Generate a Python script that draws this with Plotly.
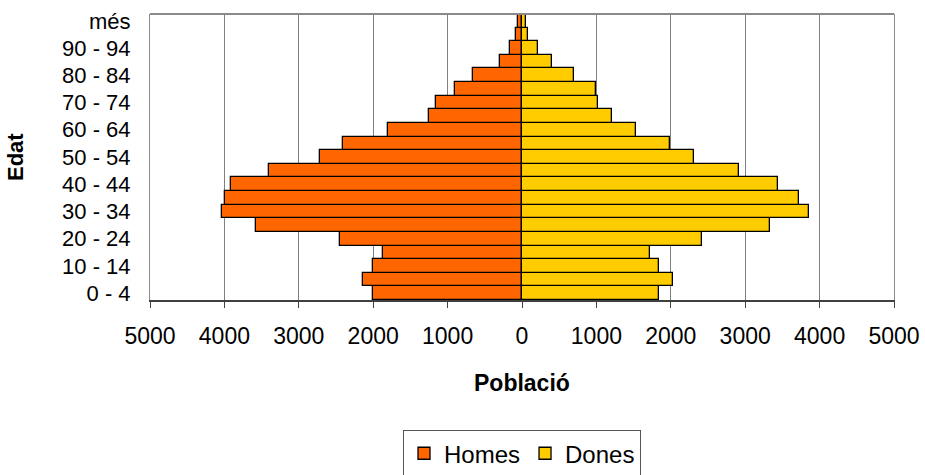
import plotly.graph_objects as go

ages = ["0 - 4", "5 - 9", "10 - 14", "15 - 19", "20 - 24", "25 - 29", "30 - 34",
        "35 - 39", "40 - 44", "45 - 49", "50 - 54", "55 - 59", "60 - 64", "65 - 69",
        "70 - 74", "75 - 79", "80 - 84", "85 - 89", "90 - 94", "95 - 99", "més"]
homes = [2008, 2142, 2008, 1874, 2442, 3571, 4028, 3997, 3917, 3406, 2711,
         2411, 1797, 1255, 1152, 906, 664, 292, 157, 80, 54]
dones = [1836, 2024, 1836, 1724, 2419, 3337, 3852, 3718, 3441, 2911, 2316,
         1993, 1532, 1214, 1026, 999, 703, 403, 215, 80, 58]
x_ticks = [-5000, -4000, -3000, -2000, -1000, 0, 1000, 2000, 3000, 4000, 5000]

FONT = "Liberation Sans, Arial, sans-serif"

fig = go.Figure()
fig.add_trace(go.Bar(
    y=ages, x=[-v for v in homes], name="Homes", orientation="h",
    marker=dict(color="#FF6600", line=dict(color="black", width=1.3)),
))
fig.add_trace(go.Bar(
    y=ages, x=dones, name="Dones", orientation="h",
    marker=dict(color="#FFCC00", line=dict(color="black", width=1.3)),
))

# grey top border of the plot area
fig.add_shape(type="line", xref="paper", yref="paper", x0=0, x1=1, y0=1, y1=1,
              line=dict(color="#8a8a8a", width=2))

# axis titles as annotations (exact placement)
fig.add_annotation(text="<b>Població</b>", xref="paper", yref="paper",
                   x=0.5, y=0, yshift=-83, showarrow=False,
                   xanchor="center", yanchor="middle", font=dict(size=23))
fig.add_annotation(text="<b>Edat</b>", xref="paper", yref="paper",
                   x=0, xshift=-135, y=0.5, showarrow=False, textangle=-90,
                   xanchor="center", yanchor="middle", font=dict(size=22))

fig.update_layout(
    width=925, height=475,
    barmode="relative", bargap=0,
    paper_bgcolor="white", plot_bgcolor="white",
    font=dict(family=FONT, color="black", size=22),
    margin=dict(l=150, r=31, t=14, b=175, autoexpand=False),
    showlegend=True,
    legend=dict(
        orientation="h", x=0.5, xanchor="center", y=-0.455, yanchor="top",
        font=dict(size=24), bordercolor="#555555", borderwidth=1,
        itemwidth=30, traceorder="normal",
    ),
    xaxis=dict(
        range=[-5000, 5000], tickvals=x_ticks,
        ticktext=[str(abs(v)) for v in x_ticks],
        tickfont=dict(size=23),
        showgrid=True, gridcolor="#808080", gridwidth=1,
        zeroline=False,
        showline=True, linecolor="#404040", linewidth=2,
        ticks="outside", ticklen=6, tickcolor="#404040",
        ticklabelstandoff=8,
    ),
    yaxis=dict(
        range=[-0.5, 20.5],
        tickvals=ages[::2],
        tickfont=dict(size=22),
        showgrid=False, zeroline=False,
        showline=True, linecolor="#8a8a8a", linewidth=1, mirror=True,
        ticks="", ticklabelstandoff=14,
    ),
)

# drop the default 8px page margin so the figure fills the window
fig.write_html("out.html", config={"displayModeBar": False},
               post_script="document.body.style.margin='0';")
